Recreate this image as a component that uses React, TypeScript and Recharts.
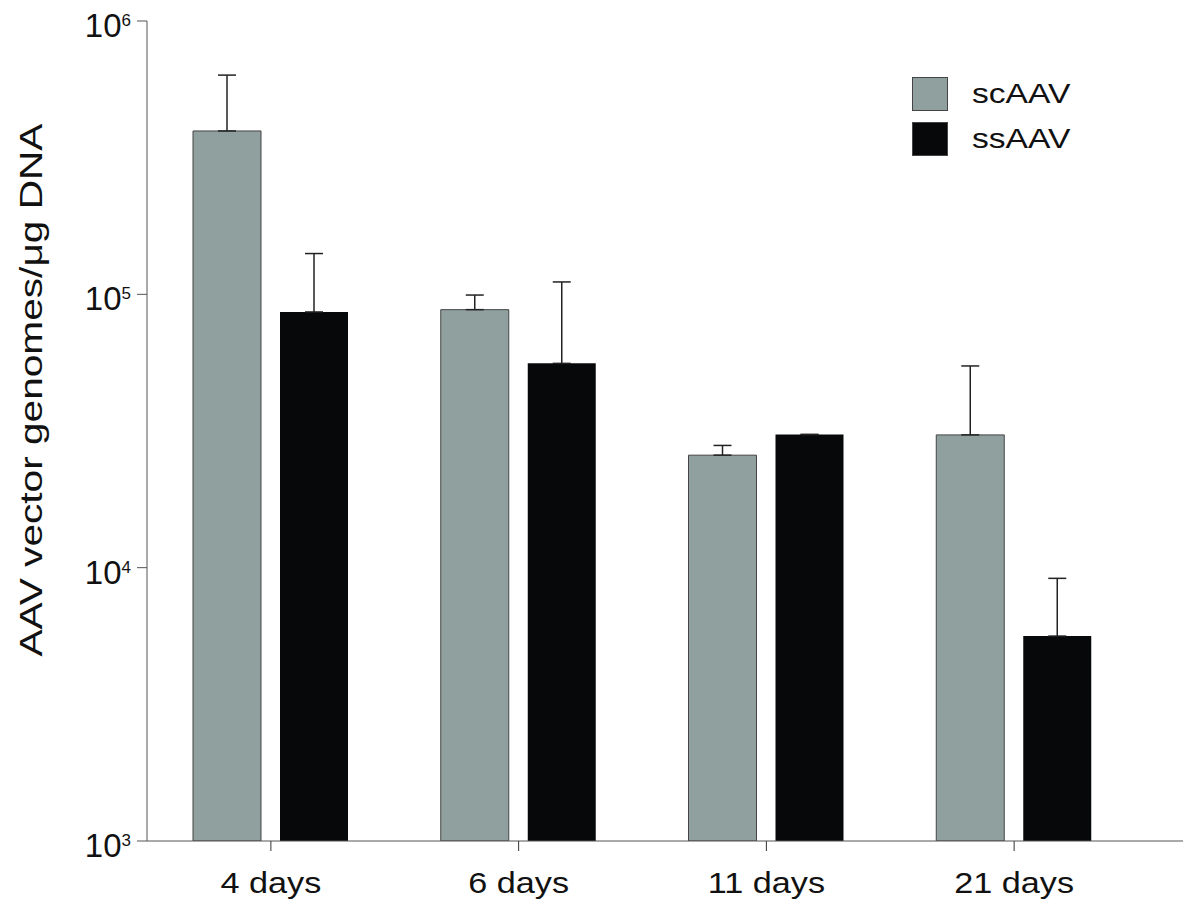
import React from 'react';
import { BarChart, Bar, XAxis, YAxis, ErrorBar } from 'recharts';

const categories = ['4 days', '6 days', '11 days', '21 days'];
const scAAV = [396000, 87900, 25800, 30600];
const ssAAV = [86200, 55900, 30700, 5620];
// upper end of each error bar (same as the value where no bar is drawn)
const scAAVErrTop = [634000, 99400, 28000, 54700];
const ssAAVErrTop = [141000, 111000, 30700, 9140];
const yTicks = [1000, 10000, 100000, 1000000];

const GREY = '#8fa09e';
const BLACK = '#070809';
const FONT = '"Liberation Sans", Arial, sans-serif';

const data = categories.map((name, i) => ({
  name,
  scAAV: scAAV[i],
  ssAAV: ssAAV[i],
  scErr: [0, scAAVErrTop[i] - scAAV[i]],
  ssErr: [0, ssAAVErrTop[i] - ssAAV[i]],
}));

const YTick = (props: any) => {
  const { x, y, payload } = props;
  const exp = Math.round(Math.log10(payload.value));
  return (
    <text x={x - 4} y={y + 16} textAnchor="end" fontFamily={FONT} fill="#111">
      <tspan fontSize={33}>10</tspan>
      <tspan fontSize={17} dy={-11}>{exp}</tspan>
    </text>
  );
};

// reference text is drawn a bit wider than Liberation Sans, hence the scaleX
const XTick = (props: any) => {
  const { x, y, payload } = props;
  return (
    <text
      transform={`translate(${x},${y + 40}) scale(1.18,1)`}
      textAnchor="middle"
      fontFamily={FONT}
      fontSize={29}
      fill="#111"
    >
      {payload.value}
    </text>
  );
};

const LegendBox = () => (
  <div
    style={{
      position: 'absolute',
      left: 904,
      top: 63,
      fontFamily: FONT,
      fontSize: 28,
      color: '#111',
    }}
  >
    {[
      { label: 'scAAV', color: GREY },
      { label: 'ssAAV', color: BLACK },
    ].map((item) => (
      <div key={item.label} style={{ display: 'flex', alignItems: 'center', height: 45 }}>
        <div
          style={{
            width: 34,
            height: 32,
            background: item.color,
            border: '1px solid #444',
            marginRight: 24,
          }}
        />
        <span style={{ display: 'inline-block', transform: 'scaleX(1.2)', transformOrigin: 'left center' }}>
          {item.label}
        </span>
      </div>
    ))}
  </div>
);

export default function App() {
  return (
    <div style={{ position: 'relative', width: 1184, height: 900 }}>
      <BarChart
        width={1184}
        height={900}
        data={data}
        margin={{ top: 13, right: 9, left: 59, bottom: 7 }}
        barSize={68}
        barGap={19}
      >
        <XAxis
          dataKey="name"
          height={60}
          padding={{ left: 0, right: 45 }}
          stroke="#555"
          tickSize={10}
          tickLine={{ stroke: '#333' }}
          tick={<XTick />}
        />
        <YAxis
          scale="log"
          domain={[1000, 1000000]}
          ticks={yTicks}
          allowDataOverflow
          width={80}
          stroke="#555"
          tickSize={10}
          tick={<YTick />}
          label={{
            content: () => (
              <text
                transform="translate(23,382) rotate(-90) scale(1.27,1)"
                textAnchor="middle"
                dominantBaseline="central"
                fontFamily={FONT}
                fontSize={32}
                fill="#111"
              >
                AAV vector genomes/μg DNA
              </text>
            ),
          }}
        />
        <Bar dataKey="scAAV" fill={GREY} stroke="#444" strokeWidth={1} isAnimationActive={false}>
          <ErrorBar dataKey="scErr" direction="y" width={9} stroke="#222" strokeWidth={1.5} isAnimationActive={false} />
        </Bar>
        <Bar dataKey="ssAAV" fill={BLACK} isAnimationActive={false}>
          <ErrorBar dataKey="ssErr" direction="y" width={9} stroke="#222" strokeWidth={1.5} isAnimationActive={false} />
        </Bar>
      </BarChart>
      <LegendBox />
    </div>
  );
}
